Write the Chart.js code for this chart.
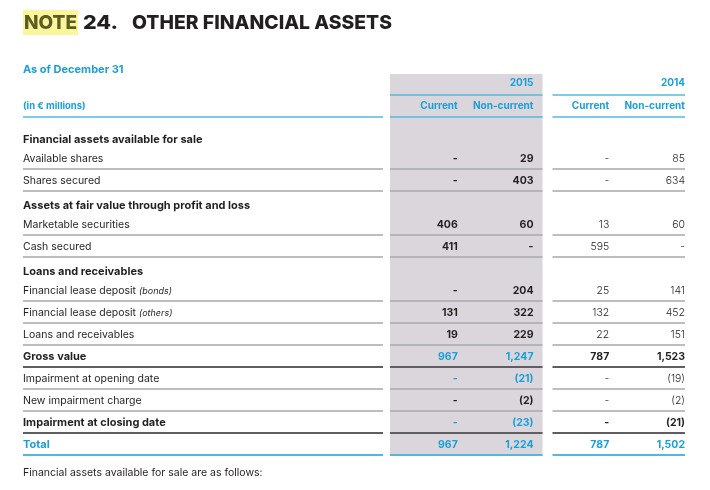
<!DOCTYPE html>
<html>
<head>
<meta charset="utf-8">
<script src="https://cdn.jsdelivr.net/npm/chart.js@4.4.1/dist/chart.umd.min.js"></script>
<style>
  html, body { margin: 0; padding: 0; background: #fff; }
  #wrap { width: 710px; height: 490px; position: relative; }
</style>
</head>
<body>
<div id="wrap"><canvas id="myChart"></canvas></div>
<script>
// table data
const rowLabels = [
    "Financial assets available for sale",
    "Available shares",
    "Shares secured",
    "Assets at fair value through profit and loss",
    "Marketable securities",
    "Cash secured",
    "Loans and receivables",
    "Financial lease deposit (bonds)",
    "Financial lease deposit (others)",
    "Loans and receivables",
    "Gross value",
    "Impairment at opening date",
    "New impairment charge",
    "Impairment at closing date",
    "Total"
];
const years = ["2015", "2014"];
const colLabels = ["Current", "Non-current", "Current", "Non-current"];

// null = section header row, 0 = "-"
const current2015    = [null, 0, 0, null, 406, 411, null, 0, 131, 19, 967, 0, 0, 0, 967];
const nonCurrent2015 = [null, 29, 403, null, 60, 0, null, 204, 322, 229, 1247, -21, -2, -23, 1224];
const current2014    = [null, 0, 0, null, 13, 595, null, 25, 132, 22, 787, 0, 0, 0, 787];
const nonCurrent2014 = [null, 85, 634, null, 60, 0, null, 141, 452, 151, 1523, -19, -2, -21, 1502];

const columns = [current2015, nonCurrent2015, current2014, nonCurrent2014];

// row styles
const headRows = [0, 3, 6];
const boldRows = [10, 13, 14];
const darkLineRows = [10, 13];
const cyan2015Rows = [10, 11, 13, 14];

const CYAN = "#1a9fd8";
const CYAN_LINE = "#52b8e2";
const DARK = "#231f20";
const GREY_LINE = "#a9a8ac";
const DARK_LINE = "#5e5d61";
const BAND = "#dad6db";
const FONT = "Inter, 'Noto Sans', sans-serif";

const fmt = (v) => {
    if (v === 0) return "-";
    const s = Math.abs(v).toLocaleString("en-US");
    return v < 0 ? "(" + s + ")" : s;
};

// draw text stretched to a given width
const fitText = (ctx, text, x, y, w) => {
    const m = ctx.measureText(text).width;
    ctx.save();
    ctx.translate(x, y);
    ctx.scale(w / m, 1);
    ctx.fillText(text, 0, 0);
    ctx.restore();
};

const datasets = columns.map((col, c) => ({
    label: years[c < 2 ? 0 : 1] + " " + colLabels[c],
    data: col.map((v, r) => v === null ? null : { x: c, y: r, v: v }).filter(p => p),
    pointRadius: 0,
    pointHoverRadius: 0,
    showLine: false
}));

const tablePlugin = {
    id: "table",
    beforeDatasetsDraw(chart) {
        const ctx = chart.ctx;
        const { top, bottom, left } = chart.chartArea;
        const xs = chart.scales.x, ys = chart.scales.y;
        const pitchX = xs.getPixelForValue(1) - xs.getPixelForValue(0);
        const pitchY = ys.getPixelForValue(1) - ys.getPixelForValue(0);
        const cellR = (c) => xs.getPixelForValue(c) + pitchX / 2;
        const cellL = (c) => xs.getPixelForValue(c) - pitchX / 2;

        // segments: label column, 2015, 2014
        const segs = [[23, left + 1], [cellL(0) + 8, cellR(1) + 9], [cellL(2) + 19, cellR(3)]];

        ctx.save();
        // 2015 band
        ctx.fillStyle = BAND;
        ctx.fillRect(segs[1][0], top - 52, segs[1][1] - segs[1][0], bottom - top + 52);

        const hline = (y, color, w, from) => {
            ctx.strokeStyle = color;
            ctx.lineWidth = w;
            segs.slice(from).forEach(s => {
                ctx.beginPath();
                ctx.moveTo(s[0], y);
                ctx.lineTo(s[1], y);
                ctx.stroke();
            });
        };
        hline(top - 31, CYAN_LINE, 1.5, 1);
        hline(top - 9, CYAN_LINE, 1.5, 0);

        rowLabels.forEach((lab, r) => {
            if (headRows.includes(r)) return;
            const y = ys.getPixelForValue(r) + pitchY / 2 - 1;
            if (r === rowLabels.length - 1) hline(y, CYAN_LINE, 2, 0);
            else if (darkLineRows.includes(r)) hline(y, DARK_LINE, 2, 0);
            else hline(y, GREY_LINE, 1.5, 0);
        });
        ctx.restore();
    },
    afterDatasetsDraw(chart) {
        const ctx = chart.ctx;
        const { top, bottom } = chart.chartArea;
        const xs = chart.scales.x, ys = chart.scales.y;
        const pitchX = xs.getPixelForValue(1) - xs.getPixelForValue(0);
        const cellR = (c) => xs.getPixelForValue(c) + pitchX / 2;

        ctx.save();
        ctx.textBaseline = "middle";

        // title
        ctx.fillStyle = "#fbf69c";
        ctx.fillRect(23, 10, 55, 25);
        ctx.font = "800 19px " + FONT;
        ctx.textAlign = "left";
        ctx.fillStyle = "#5d5c22";
        fitText(ctx, "NOTE", 24, 23, 53);
        ctx.fillStyle = DARK;
        fitText(ctx, "24.", 83, 23, 35);
        fitText(ctx, "OTHER FINANCIAL ASSETS", 132, 23, 260);

        // header
        ctx.fillStyle = CYAN;
        ctx.font = "bold 11px " + FONT;
        ctx.fillText("As of December 31", 23, top - 56);
        ctx.font = "bold 9.5px " + FONT;
        ctx.fillText("(in € millions)", 23, top - 20);
        ctx.font = "bold 10px " + FONT;
        ctx.textAlign = "right";
        ctx.fillText(years[0], cellR(1), top - 43);
        ctx.fillText(years[1], cellR(3), top - 43);
        colLabels.forEach((lab, c) => ctx.fillText(lab, cellR(c), top - 20));

        // row labels
        ctx.textAlign = "left";
        rowLabels.forEach((lab, r) => {
            let y = ys.getPixelForValue(r);
            const isHead = headRows.includes(r);
            if (isHead) y += 3;
            const bold = isHead || boldRows.includes(r);
            ctx.fillStyle = r === rowLabels.length - 1 ? CYAN : DARK;
            const m = lab.match(/^(.*?)(\(.*\))$/);
            ctx.font = bold ? "bold 11px " + FONT : "10.5px " + FONT;
            if (m) {
                ctx.fillText(m[1], 23, y);
                const w = ctx.measureText(m[1]).width;
                ctx.font = "italic 9px " + FONT;
                ctx.fillText(m[2], 23 + w, y);
            } else {
                ctx.fillText(lab, 23, y);
            }
        });

        // cells
        ctx.textAlign = "right";
        chart.data.datasets.forEach((ds, c) => {
            const meta = chart.getDatasetMeta(c);
            meta.data.forEach((pt, k) => {
                const d = ds.data[k];
                const r = d.y;
                let bold, color;
                if (c < 2) {
                    bold = true;
                    color = cyan2015Rows.includes(r) ? CYAN : DARK;
                } else {
                    bold = boldRows.includes(r);
                    color = r === rowLabels.length - 1 ? CYAN : DARK;
                }
                ctx.font = (bold ? "bold " : "300 ") + "10.5px " + FONT;
                ctx.fillStyle = color;
                ctx.fillText(fmt(d.v), pt.x + pitchX / 2, pt.y);
            });
        });

        // footnote
        ctx.textAlign = "left";
        ctx.fillStyle = DARK;
        ctx.font = "10.5px " + FONT;
        ctx.fillText("Financial assets available for sale are as follows:", 23, bottom + 17);
        ctx.restore();
    }
};

new Chart("myChart", {
    type: "scatter",
    data: { datasets: datasets },
    options: {
        responsive: true,
        maintainAspectRatio: false,
        animation: false,
        events: [],
        layout: { padding: { left: 382, right: 25, top: 126, bottom: 34 } },
        scales: {
            x: { type: "linear", min: -0.5, max: colLabels.length - 0.5, display: false },
            y: { type: "linear", min: -0.5, max: rowLabels.length - 0.5, reverse: true, display: false }
        },
        plugins: { legend: { display: false }, tooltip: { enabled: false } }
    },
    plugins: [tablePlugin]
});
</script>
</body>
</html>
